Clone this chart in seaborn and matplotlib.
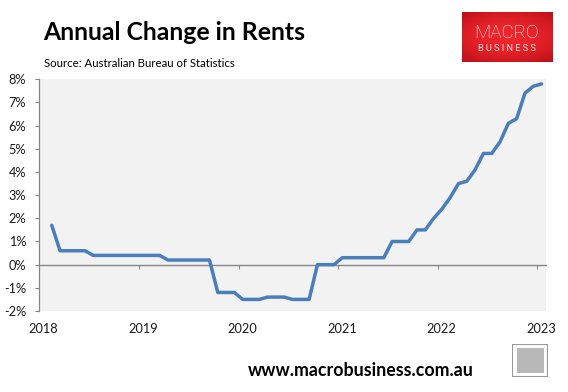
import numpy as np
import pandas as pd
import matplotlib
matplotlib.use("Agg")
import matplotlib.pyplot as plt
import matplotlib.transforms as mtransforms
from matplotlib.patches import Rectangle
from matplotlib.colors import LinearSegmentedColormap
import seaborn as sns

# ---- data (monthly, Feb 2018 .. Jan 2023) ----
start_month = "2018-02"
rent_change = [
    1.7,
    0.6, 0.6, 0.6, 0.6,
    0.4, 0.4, 0.4, 0.4, 0.4, 0.4, 0.4, 0.4, 0.4,
    0.2, 0.2, 0.2, 0.2, 0.2, 0.2,
    -1.2, -1.2, -1.2,
    -1.5, -1.5, -1.5,
    -1.4, -1.4, -1.4,
    -1.5, -1.5, -1.5,
    0.0, 0.0, 0.0,
    0.3, 0.3, 0.3, 0.3, 0.3, 0.3,
    1.0, 1.0, 1.0,
    1.5, 1.5,
    2.0, 2.4, 2.9, 3.5, 3.6, 4.1, 4.8, 4.8, 5.3, 6.1, 6.3, 7.4, 7.7, 7.8,
]
year_labels = ["2018", "2019", "2020", "2021", "2022", "2023"]
y_ticks = [-2, -1, 0, 1, 2, 3, 4, 5, 6, 7, 8]

title = "Annual Change in Rents"
source = "Source: Australian Bureau of Statistics"
url = "www.macrobusiness.com.au"

dates = pd.date_range(start_month, periods=len(rent_change), freq="MS")
# month position: months since Jan 2018, centred within the month
pos = (dates.year - 2018) * 12 + (dates.month - 1) + 0.5
df = pd.DataFrame({"pos": pos, "value": rent_change})

# ---- style ----
sns.set_theme(style="white")
plt.rcParams["font.family"] = ["Lato", "DejaVu Sans"]

W, H = 568, 392
fig = plt.figure(figsize=(W / 100, H / 100), dpi=100)
fig.patch.set_facecolor("white")

def fx(px):
    return px / W

def fy(py):
    return 1 - py / H

left, right, top, bottom = 39.3, 545.7, 79.3, 311.0
ax = fig.add_axes([fx(left), fy(bottom), fx(right - left), (bottom - top) / H])
ax.set_facecolor("#F2F2F2")

gray = "#868686"
sns.lineplot(data=df, x="pos", y="value", ax=ax, color="#4A7EBB",
             linewidth=2.5, legend=False)

ax.set_xlim(0, 61)
ax.set_ylim(-2, 8)
ax.set_xlabel("")
ax.set_ylabel("")

# y axis
ax.set_yticks(y_ticks)
ax.set_yticklabels([f"{v}%" for v in y_ticks])
ax.tick_params(axis="y", direction="out", length=2.9, width=0.75, color=gray,
               pad=6.5, labelsize=9.2, labelcolor="#1a1a1a", left=True)

# x axis labels at bottom (no tick marks there)
year_pos = [12 * i for i in range(len(year_labels))]
ax.set_xticks(year_pos)
ax.set_xticklabels(year_labels)
ax.tick_params(axis="x", length=0, pad=8.5, labelsize=9.2, labelcolor="#1a1a1a")
offset = mtransforms.ScaledTranslation(4 / 100, 0, fig.dpi_scale_trans)
for lab in ax.get_xticklabels():
    lab.set_transform(lab.get_transform() + offset)

for s in ["top", "right", "bottom"]:
    ax.spines[s].set_visible(False)
ax.spines["left"].set_color(gray)
ax.spines["left"].set_linewidth(0.9)

# zero line with year ticks
sec = ax.secondary_xaxis(0.2)
sec.set_xticks(year_pos)
sec.set_xticklabels([""] * len(year_pos))
sec.tick_params(direction="out", length=3.2, width=0.75, color=gray)
sec.spines["bottom"].set_color(gray)
sec.spines["bottom"].set_linewidth(1.0)
ax.grid(False)

# ---- texts ----
fig.text(fx(43), fy(40), title, ha="left", va="baseline",
         fontsize=17.8, fontweight="bold", color="black")
fig.text(fx(44), fy(66.7), source, ha="left", va="baseline",
         fontsize=8.2, color="black")
fig.text(fx(248), fy(375.5), url, ha="left", va="baseline",
         fontsize=12.8, fontweight="bold", color="black")

# ---- logo (red box) ----
lax = fig.add_axes([fx(461.7), fy(62.3), fx(551.7 - 461.7), (62.3 - 11.7) / H])
gy, gx = np.mgrid[-1:1:60j, -1:1:100j]
r = np.sqrt((gx / 1.1) ** 2 + (gy / 0.9) ** 2)
img = np.clip(1 - 0.35 * r ** 2, 0, 1)
cmap = LinearSegmentedColormap.from_list("red", ["#C0121A", "#F0262C"])
lax.imshow(img, cmap=cmap, aspect="auto", extent=[0, 1, 0, 1], vmin=0.4, vmax=1)
lax.set_axis_off()
lax.text(0.5, 0.49, "MACRO", ha="center", va="baseline", color="white",
         fontsize=13.6, family=["Roboto", "DejaVu Sans"], fontweight="light",
         transform=lax.transAxes)
lax.text(0.5, 0.23, "B U S I N E S S", ha="center", va="baseline", color="#FBE3E3",
         fontsize=6.6, family=["Roboto", "DejaVu Sans"],
         transform=lax.transAxes)

# ---- small fox badge placeholder ----
bx = fig.add_axes([fx(512.3), fy(377.3), fx(548.3 - 512.3), (377.3 - 344) / H])
bx.set_xlim(0, 1)
bx.set_ylim(0, 1)
bx.add_patch(Rectangle((0.0, 0.0), 1, 1, facecolor="white", edgecolor="#9A9A9A", lw=1.5))
bx.add_patch(Rectangle((0.12, 0.12), 0.76, 0.76, facecolor="#B8B8B8", edgecolor="none"))
bx.set_axis_off()

fig.savefig("out.png", dpi=100, facecolor="white")
